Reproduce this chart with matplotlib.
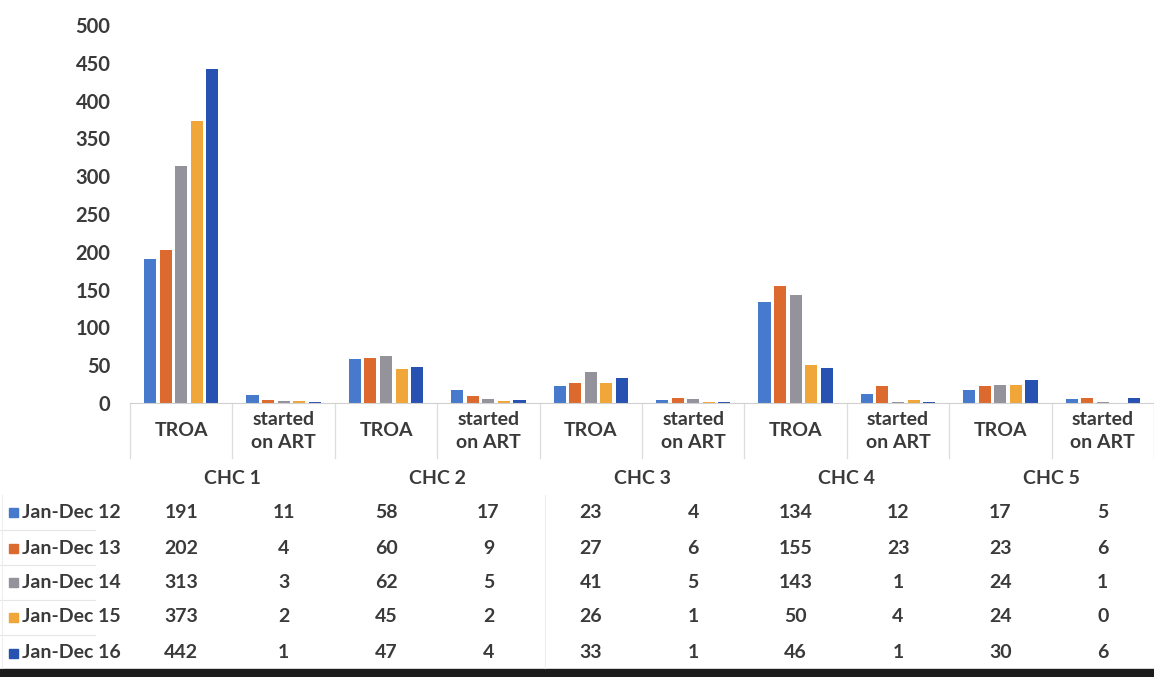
import matplotlib
matplotlib.use("Agg")
import matplotlib.pyplot as plt
import numpy as np
from matplotlib.patches import Rectangle
from matplotlib.lines import Line2D

centres = ["CHC 1", "CHC 2", "CHC 3", "CHC 4", "CHC 5"]
measures = ["TROA", "started\non ART"]
series_names = ["Jan-Dec 12", "Jan-Dec 13", "Jan-Dec 14", "Jan-Dec 15", "Jan-Dec 16"]
jan_dec_12 = [191, 11, 58, 17, 23, 4, 134, 12, 17, 5]
jan_dec_13 = [202, 4, 60, 9, 27, 6, 155, 23, 23, 6]
jan_dec_14 = [313, 3, 62, 5, 41, 5, 143, 1, 24, 1]
jan_dec_15 = [373, 2, 45, 2, 26, 1, 50, 4, 24, 0]
jan_dec_16 = [442, 1, 47, 4, 33, 1, 46, 1, 30, 6]
y_ticks = [0, 50, 100, 150, 200, 250, 300, 350, 400, 450, 500]

series = [jan_dec_12, jan_dec_13, jan_dec_14, jan_dec_15, jan_dec_16]
colors = ["#4779cc", "#dc6a2e", "#94939c", "#f0a638", "#2752b2"]

W, H = 1154, 677
plt.rcParams["font.family"] = ["Lato", "DejaVu Sans"]
plt.rcParams["font.weight"] = "bold"
text_col = "#3a3a3a"
fs = 14

fig = plt.figure(figsize=(W / 100, H / 100), dpi=100)

# plot area in pixels (from top-left)
ax_l, ax_r, ax_t, ax_b = 130, 1154, 25, 403
ax = fig.add_axes([ax_l / W, 1 - ax_b / H, (ax_r - ax_l) / W, (ax_b - ax_t) / H])

n_cat = len(jan_dec_12)
x = np.arange(n_cat)
bar_w = 0.118
step = 0.152
for i, (vals, col) in enumerate(zip(series, colors)):
    ax.bar(x + (i - 2) * step, vals, width=bar_w, color=col, zorder=2)

ax.set_xlim(-0.5, n_cat - 0.5)
ax.set_ylim(0, 500)
ax.set_yticks(y_ticks)
ax.set_yticklabels([str(v) for v in y_ticks], fontsize=fs + 0.5, color=text_col)
ax.tick_params(axis="y", length=0, pad=14)
ax.set_xticks([])
for s in ["top", "right", "left"]:
    ax.spines[s].set_visible(False)
ax.spines["bottom"].set_color("#d0d0d0")


def fy(ypx):
    """pixel y (from top) -> axes fraction"""
    return (ax_b - ypx) / (ax_b - ax_t)


def fig_xy(xpx, ypx):
    return xpx / W, 1 - ypx / H


trans = ax.get_xaxis_transform()

# category boundaries (tick lines under the axis)
for b in np.arange(-0.5, n_cat, 1.0):
    ax.add_line(Line2D([b, b], [fy(403), fy(458)], transform=trans,
                       color="#dddddd", lw=0.9, clip_on=False))

# category labels
for k in range(n_cat):
    lab = measures[k % 2]
    ax.text(k, fy(431), lab, transform=trans, ha="center", va="center",
            fontsize=fs, color=text_col, linespacing=1.45)

# centre group labels
for g, name in enumerate(centres):
    ax.text(2 * g + 0.5, fy(478), name, transform=trans, ha="center",
            va="center", fontsize=fs, color=text_col)

# data table rows
row_y = [512, 548, 582, 617, 653]
for r, (name, vals, col) in enumerate(zip(series_names, series, colors)):
    yy = row_y[r]
    fig.patches.append(Rectangle(fig_xy(9, yy + 4.5), 9 / W, 9 / H,
                                 transform=fig.transFigure, color=col))
    fig.text(*fig_xy(22, yy), name, ha="left", va="center",
             fontsize=fs, color=text_col)
    for k, v in enumerate(vals):
        ax.text(k, fy(yy), str(v), transform=trans, ha="center",
                va="center", fontsize=fs, color=text_col)
    if r < len(series_names) - 1:
        ymid = (row_y[r] + row_y[r + 1]) / 2
        fig.add_artist(Line2D([0, 95 / W], [1 - ymid / H] * 2,
                              transform=fig.transFigure, color="#e6e6e6", lw=0.8))

# faint table column separators
for xb in [2, 545]:
    fig.add_artist(Line2D([xb / W] * 2, [1 - 495 / H, 1 - 668 / H],
                          transform=fig.transFigure, color="#eeeeee", lw=0.8))

# dark band at the bottom edge of the scan
fig.patches.append(Rectangle((0, 0), 1, 8 / H, transform=fig.transFigure,
                             color="#1c1c1c"))

fig.savefig("out.png", dpi=100, facecolor="white")
